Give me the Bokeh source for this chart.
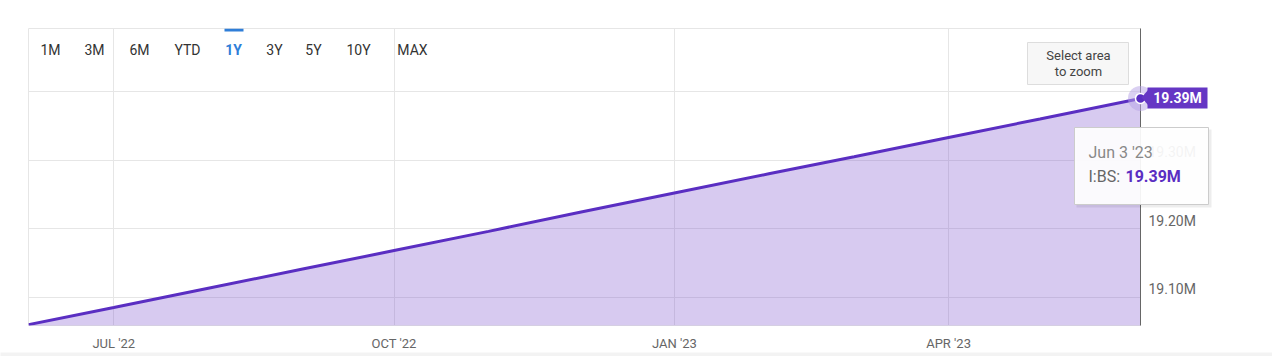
import pandas as pd
from bokeh.plotting import figure
from bokeh.models import (Range1d, LinearAxis, FixedTicker, Grid, Label,
                          BoxAnnotation, CustomJSTickFormatter, ColumnDataSource)
from bokeh.core.properties import value
from bokeh.embed import file_html
from bokeh.resources import INLINE

# ---------------- data ----------------
dates = ["2022-06-03", "2022-07-01", "2022-08-01", "2022-09-01", "2022-10-01",
         "2022-11-01", "2022-12-01", "2023-01-01", "2023-02-01", "2023-03-01",
         "2023-04-01", "2023-05-01", "2023-06-03"]
values_m = [19.060, 19.085, 19.113, 19.141, 19.168, 19.196, 19.224,
            19.252, 19.280, 19.305, 19.333, 19.360, 19.390]
x_tick_dates = ["2022-07-01", "2022-10-01", "2023-01-01", "2023-04-01"]
x_tick_labels = ["JUL '22", "OCT '22", "JAN '23", "APR '23"]
y_grid_m = [19.1, 19.2, 19.3, 19.4]
y_label_m = [19.1, 19.2, 19.3]
range_buttons = ["1M", "3M", "6M", "YTD", "1Y", "3Y", "5Y", "10Y", "MAX"]
selected_button = "1Y"
series_name = "I:BS"
last_date_label = "Jun 3 '23"
y_min_m, y_max_m = 19.0587, 19.492

# ---------------- styles / layout ----------------
FONT = "Roboto"
LINE = "#5a2ec2"
FILL = "#6a3cc8"
FLAG = "#6536c4"
GRID = "#e6e6e6"
TXT = "#666666"

x_ms = [int(pd.Timestamp(d).value // 10**6) for d in dates]
xt_ms = [int(pd.Timestamp(d).value // 10**6) for d in x_tick_dates]

src = ColumnDataSource(dict(x=x_ms, v=values_m))

FL, FT, FR, FB = 28, 28, 1140, 325   # frame edges in page pixels
W, H = 1272, 356
p = figure(width=W, height=H, output_backend="svg", toolbar_location=None,
           x_axis_location=None, y_axis_location=None,
           x_range=Range1d(x_ms[0], x_ms[-1]),
           y_range=Range1d(y_min_m, y_max_m),
           min_border_left=FL, min_border_right=W - FR,
           min_border_top=FT, min_border_bottom=H - FB)
p.outline_line_color = GRID
p.background_fill_color = "white"
p.border_fill_color = "white"
# drop default grids
p.center = [r for r in p.center if not isinstance(r, Grid)]

# frame-relative screen helpers (for in-frame annotations)
def sx(px):
    return px - FL
def sy(py):
    return FB - py
# page pixel -> data helpers (for decorations drawn outside the frame)
FW, FH = FR - FL, FB - FT
def dx(px):
    return x_ms[0] + (px - FL) * (x_ms[-1] - x_ms[0]) / FW
def dy(py):
    return y_min_m + (FB - py) * (y_max_m - y_min_m) / FH

# grids
p.add_layout(Grid(dimension=0, ticker=FixedTicker(ticks=xt_ms),
                  grid_line_color=GRID, grid_line_width=1))
p.add_layout(Grid(dimension=1, ticker=FixedTicker(ticks=y_grid_m),
                  grid_line_color=GRID, grid_line_width=1))

# x axis
xaxis = LinearAxis(ticker=FixedTicker(ticks=xt_ms),
                   formatter=CustomJSTickFormatter(
                       args=dict(t=xt_ms, l=x_tick_labels),
                       code="const i = t.indexOf(tick); return i >= 0 ? l[i] : '';"))
xaxis.axis_line_color = None
xaxis.major_tick_line_color = None
xaxis.minor_tick_line_color = None
xaxis.major_tick_out = 0
xaxis.major_label_standoff = 10
xaxis.major_label_text_font = FONT
xaxis.major_label_text_font_size = "13px"
xaxis.major_label_text_color = TXT
p.add_layout(xaxis, "below")

# right y axis (labels sit ~8px above their grid lines)
d = 8.0 * (y_max_m - y_min_m) / FH
p.extra_y_ranges = {"lab": Range1d(y_min_m - d, y_max_m - d)}
yaxis = LinearAxis(y_range_name="lab", ticker=FixedTicker(ticks=y_label_m),
                   formatter=CustomJSTickFormatter(code="return tick.toFixed(2) + 'M';"))
yaxis.axis_line_color = "#666666"
yaxis.axis_line_width = 1
yaxis.major_tick_line_color = None
yaxis.minor_tick_line_color = None
yaxis.major_tick_out = 0
yaxis.major_tick_in = 0
yaxis.major_label_standoff = 8
yaxis.major_label_text_font = FONT
yaxis.major_label_text_font_size = "14px"
yaxis.major_label_text_color = TXT
p.add_layout(yaxis, "right")

# series
p.varea(x="x", y1=y_min_m - 1, y2="v", source=src, fill_color=FILL, fill_alpha=0.27)
p.line(x="x", y="v", source=src, line_color=LINE, line_width=3)

# range selector
btn_cx = [50, 94, 139, 187, 233, 274, 313, 358, 412]
for name, cx in zip(range_buttons, btn_cx):
    sel = name == selected_button
    p.add_layout(Label(x=sx(cx), y=sy(49), x_units="screen", y_units="screen",
                       text=name, text_align="center", text_baseline="middle",
                       text_font=FONT, text_font_size="14px",
                       text_font_style="bold" if sel else "normal",
                       text_color="#2f7ed8" if sel else "#333333"))
p.add_layout(BoxAnnotation(left=sx(224), right=sx(243), top=sy(28), bottom=sy(31),
                           left_units="screen", right_units="screen",
                           top_units="screen", bottom_units="screen",
                           fill_color="#2f7ed8", fill_alpha=1, line_color=None))

# "Select area to zoom" box
p.add_layout(BoxAnnotation(left=sx(1027), right=sx(1128), top=sy(42), bottom=sy(84),
                           left_units="screen", right_units="screen",
                           top_units="screen", bottom_units="screen",
                           fill_color="#f7f7f7", fill_alpha=1,
                           line_color="#dddddd", line_alpha=1))
for t, yy in [("Select area", 55), ("to zoom", 71)]:
    p.add_layout(Label(x=sx(1078), y=sy(yy), x_units="screen", y_units="screen",
                       text=t, text_align="center", text_baseline="middle",
                       text_font=FONT, text_font_size="13px", text_color="#444444"))

# end marker (halo + dot)
end_src = ColumnDataSource(dict(x=x_ms[-1:], v=values_m[-1:]))
p.scatter(x="x", y="v", source=end_src, size=25, fill_color="#b6a1e6",
          fill_alpha=0.5, line_color=None, level="overlay")
p.scatter(x="x", y="v", source=end_src, size=10, fill_color=LINE,
          line_color="white", line_width=1.5, level="overlay")

# flag label on the right axis
val_txt = f"{values_m[-1]:.2f}M"
p.patch(x=[dx(1141), dx(1148), dx(1148)], y=[dy(97), dy(89), dy(105)],
        fill_color=FLAG, line_color=None, level="overlay")
p.quad(left=[dx(1147)], right=[dx(1207)], top=[dy(87)], bottom=[dy(108)],
       fill_color=FLAG, line_color=None, level="overlay")
p.text(x=[dx(1177)], y=[dy(97.5)], text=[val_txt], text_align="center",
       text_baseline="middle", text_font=value(FONT), text_font_size="14px",
       text_font_style="bold", text_color="white", level="overlay")

# tooltip
p.quad(left=[dx(1076)], right=[dx(1211)], top=[dy(129)], bottom=[dy(207)],
       fill_color="#000000", fill_alpha=0.07, line_color=None, level="overlay")
p.quad(left=[dx(1074)], right=[dx(1208)], top=[dy(127)], bottom=[dy(204)],
       fill_color="white", fill_alpha=0.93, line_color="#cccccc", level="overlay")
p.text(x=[dx(1088)], y=[dy(152)], text=[last_date_label], text_align="left",
       text_baseline="middle", text_font=value(FONT), text_font_size="16px",
       text_color="#888888", level="overlay")
p.text(x=[dx(1088)], y=[dy(176)], text=[series_name + ":"], text_align="left",
       text_baseline="middle", text_font=value(FONT), text_font_size="16px",
       text_color="#666666", level="overlay")
p.text(x=[dx(1125)], y=[dy(176)], text=[val_txt], text_align="left",
       text_baseline="middle", text_font=value(FONT), text_font_size="16px",
       text_font_style="bold", text_color=LINE, level="overlay")

# light grey strip at the page bottom
p.quad(left=[dx(0)], right=[dx(W)], top=[dy(352)], bottom=[dy(H)],
       fill_color="#f3f3f3", line_color=None, level="overlay")

open("out.html", "w").write(file_html(p, INLINE))
